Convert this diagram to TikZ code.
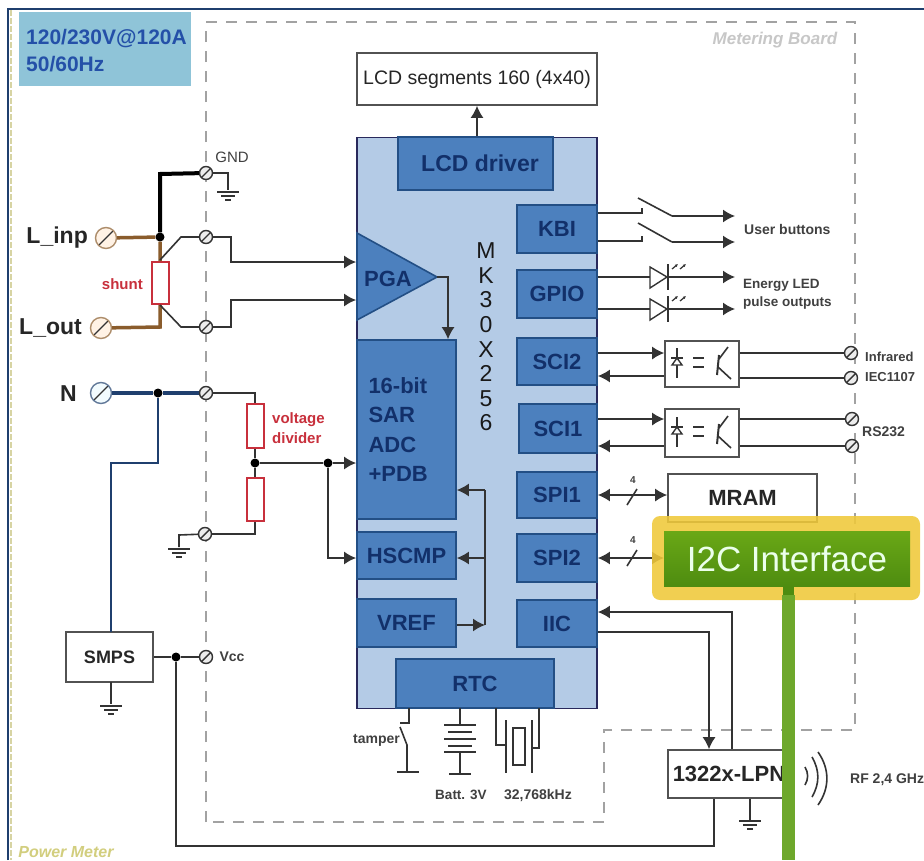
\documentclass[tikz,border=0pt]{standalone}
\usepackage{fontspec}
\setmainfont{Liberation Sans}
\usepackage{tikz}
\usetikzlibrary{arrows.meta}
\definecolor{chipblue}{HTML}{B4CBE6}
\definecolor{blockblue}{HTML}{4C80BE}
\definecolor{blockline}{HTML}{234F85}
\definecolor{labelblue}{HTML}{12306A}
\definecolor{wire}{HTML}{333333}
\definecolor{brownwire}{HTML}{8A5C2C}
\definecolor{navywire}{HTML}{1F3F6E}
\definecolor{dashgrey}{HTML}{A2A2A2}
\definecolor{redline}{HTML}{C8303C}
\definecolor{barGreen}{HTML}{6EA82C}
\definecolor{mainsblue}{HTML}{8FC4D8}
\definecolor{mainstext}{HTML}{2450A8}
\definecolor{glowyellow}{HTML}{F0C93A}
\definecolor{i2ctop}{HTML}{6AA816}
\definecolor{i2cbottom}{HTML}{4E8C10}
\newcommand{\fsz}[1]{\fontsize{#1}{#1}\selectfont}

\begin{document}
\begin{tikzpicture}[
    x=1pt, y=-1pt,
    block/.style={rectangle, draw=blockline, line width=1.6pt, fill=blockblue, inner sep=0pt, text=labelblue, font=\fsz{22}\bfseries},
    whitebox/.style={rectangle, draw=wire!85, line width=1.6pt, fill=white, inner sep=0pt, text=black!85, font=\fsz{18}\bfseries},
    term/.style={circle, draw=wire, line width=1.4pt, fill=white!85!gray, inner sep=0pt, minimum size=13pt, path picture={\draw[line width=1.4pt, draw=wire] (path picture bounding box.south west) -- (path picture bounding box.north east);}},
    bigterm/.style={term, minimum size=21pt, fill=white},
    resistor/.style={rectangle, draw=redline, line width=2pt, fill=white, inner sep=0pt, minimum width=17pt},
    tag/.style={inner sep=0pt, text=black!75, font=\fsz{14}\bfseries},
    bigtag/.style={inner sep=0pt, text=black!85, font=\fsz{23}\bfseries},
    redtag/.style={inner sep=0pt, text=redline, font=\fontsize{15}{20}\selectfont\bfseries, align=left},
    dot/.style={circle, fill=black, inner sep=0pt, minimum size=9pt},
    line/.style={draw=wire, line width=1.6pt},
    arrowline/.style={line, -{Latex[length=12pt,width=13pt]}},
    bothline/.style={line, {Latex[length=12pt,width=13pt]}-{Latex[length=12pt,width=13pt]}},
    boardline/.style={draw=dashgrey, line width=2pt, dash pattern=on 11pt off 9pt},
    gnd/.pic={
        \draw[line width=2pt, draw=wire] (-11,0) -- (11,0);
        \draw[line width=2pt, draw=wire] (-7,4) -- (7,4);
        \draw[line width=2pt, draw=wire] (-3,8) -- (3,8);
    },
    led/.pic={
        \draw[line width=1.4pt, draw=wire, fill=white] (0,-10) -- (0,11) -- (17,0) -- cycle;
        \draw[line width=1.6pt, draw=wire] (18,-13) -- (18,13);
        \draw[line width=1.2pt, draw=wire, -{Latex[length=3pt,width=3pt]}] (22,-8) -- (28,-13);
        \draw[line width=1.2pt, draw=wire, -{Latex[length=3pt,width=3pt]}] (30,-8) -- (36,-13);
    },
    opto/.pic={
        \draw[line width=1.6pt, draw=wire] (-25,-16) -- (-25,14);
        \draw[line width=1.4pt, draw=wire, fill=white] (-30,1) -- (-20,1) -- (-25,-6) -- cycle;
        \draw[line width=1.6pt, draw=wire] (-31,-6) -- (-19,-6);
        \draw[line width=1.6pt, draw=wire] (-9,-6) -- (2,-6);
        \draw[line width=1.6pt, draw=wire] (-9,3) -- (2,3);
        \draw[line width=2pt, draw=wire] (17,-9) -- (15,11);
        \draw[line width=1.6pt, draw=wire] (17,-5) -- (26,-17);
        \draw[line width=1.6pt, draw=wire] (16,3) -- (29,15);
    }
]
    \useasboundingbox (0,0) rectangle (924,860);
    \fill[white] (0,0) rectangle (924,860);

    % Frame
    \draw[draw=yellow!40!gray!60, line width=2pt, dash pattern=on 6pt off 2pt] (11,10) -- (11,860);
    \draw[draw=navywire, line width=2pt] (8,860) -- (8,8.5) -- (924,8.5);
    \node (mains) [rectangle, fill=mainsblue, minimum width=172pt, minimum height=74pt, inner sep=0pt] at (105,49) {};
    \node (mainsname) [inner sep=0pt, text=mainstext, font=\fontsize{21}{27}\selectfont\bfseries, align=left, anchor=west] at (26,51) {120/230V@120A\\50/60Hz};

    % Board outline
    \draw[boardline] (206,822) -- (206,22) -- (855,22) -- (855,730) -- (604,730) -- (604,822) -- cycle;
    \node (boardname) [inner sep=0pt, text=black!22, font=\fsz{17}\bfseries\itshape] at (775,40) {Metering Board};
    \node (metername) [inner sep=0pt, text=olive!40!white, font=\fsz{16}\bfseries\itshape] at (66,852) {Power Meter};

    % Chip
    \node (chip) [rectangle, draw=wire!80!blue, line width=1.8pt, fill=chipblue, minimum width=240pt, minimum height=571pt, inner sep=0pt] at (477,423) {};
    \node (chipname) [inner sep=0pt, text=black!90, font=\fontsize{23}{24.6}\selectfont, align=center] at (486,337) {M\\K\\3\\0\\X\\2\\5\\6};
    \node (lcddrv) [block, minimum width=155pt, minimum height=53pt, font=\fsz{23}\bfseries] at (475.5,163.5) {\hspace*{9pt}LCD driver};
    \node (lcd) [whitebox, minimum width=240pt, minimum height=52pt, font=\fsz{19.5}] at (477,79) {LCD segments 160 (4x40)};
    \node (kbi) [block, minimum width=80pt, minimum height=48pt] at (557,229) {KBI};
    \node (gpio) [block, minimum width=80pt, minimum height=48pt] at (557,294) {GPIO};
    \node (scib) [block, minimum width=80pt, minimum height=47pt] at (557,361.5) {SCI2};
    \node (scia) [block, minimum width=78pt, minimum height=49pt] at (558,428.5) {SCI1};
    \node (spia) [block, minimum width=80pt, minimum height=46pt] at (557,495) {SPI1};
    \node (spib) [block, minimum width=80pt, minimum height=48pt] at (557,558) {SPI2};
    \node (iic) [block, minimum width=80pt, minimum height=47pt] at (557,623.5) {IIC};
    \node (rtc) [block, minimum width=158pt, minimum height=49pt] at (475,683.5) {RTC};
    \node (adc) [block, minimum width=99pt, minimum height=179pt, text width=76pt, align=left, font=\fontsize{22}{29.5}\selectfont\bfseries] at (406.5,429.5) {16-bit\\SAR\\ADC\\+PDB};
    \node (hscmp) [block, minimum width=99pt, minimum height=47pt] at (406.5,555.5) {HSCMP};
    \node (vref) [block, minimum width=99pt, minimum height=48pt] at (406.5,623) {VREF};
    \draw[draw=blockline, line width=1.6pt, fill=blockblue] (357,233) -- (437,277) -- (357,320) -- cycle;
    \node (pga) [inner sep=0pt, text=labelblue, font=\fsz{22}\bfseries] at (388,279) {PGA};
    \coordinate (pgatip) at (437,277);

    % Left side nodes
    \node (linp) [bigterm, draw=brownwire!70, fill=orange!10] at (106,238) {};
    \node (lout) [bigterm, draw=brownwire!70, fill=orange!10] at (101,328) {};
    \node (neutral) [bigterm, draw=navywire!70, fill=cyan!5] at (101,393) {};
    \node (linpname) [bigtag, anchor=east] at (88,238) {L\_inp};
    \node (loutname) [bigtag, anchor=east] at (82,328) {L\_out};
    \node (nname) [bigtag, anchor=east] at (77,394) {N};
    \node (tgnd) [term] at (206,173) {};
    \node (tsa) [term] at (206,237) {};
    \node (tsb) [term] at (206,327) {};
    \node (tn) [term] at (206,393) {};
    \node (tdiv) [term] at (205,534) {};
    \node (tvcc) [term] at (206,657) {};
    \node (gndname) [tag, font=\fsz{15}] at (232,157) {GND};
    \node (vccname) [tag] at (232,657) {Vcc};
    \node (shunt) [resistor, minimum height=42pt] at (160,283) {};
    \node (shuntname) [redtag, anchor=east] at (143,284) {shunt};
    \node (rup) [resistor, minimum height=44pt] at (255,426) {};
    \node (rlow) [resistor, minimum height=43pt] at (255,499.5) {};
    \node (divname) [redtag, anchor=west] at (272,428) {voltage\\divider};
    \node (smps) [whitebox, minimum width=87pt, minimum height=50pt] at (109.5,657) {SMPS};
    \node (dotl) [dot] at (160,237) {};
    \node (dotn) [dot] at (158,393) {};
    \node (dotdiv) [dot] at (255,463) {};
    \node (dotadc) [dot] at (328,463) {};
    \node (dotvcc) [dot] at (176,657) {};
    \coordinate (senseb) at (231,262);
    \coordinate (sensec) at (231,300);

    % Left side paths
    \draw[draw=brownwire, line width=3.5pt] (linp) -- (dotl) -- (shunt.north);
    \draw[draw=brownwire, line width=3.5pt] (lout) -- (160,327) -- (shunt.south);
    \draw[draw=black, line width=4pt] (dotl) -- (160,174) -- (tgnd);
    \path[line] (tgnd) -- (228,173) -- (228,190);
    \pic at (228,192) {gnd};
    \path[line] (160,260) -- (181,237) -- (tsa);
    \path[line] (160,305) -- (181,327) -- (tsb);
    \path[arrowline] (tsa) -- (231,237) -- (senseb) -- (chip.west |- senseb);
    \path[arrowline] (tsb) -- (231,327) -- (sensec) -- (chip.west |- sensec);
    \draw[draw=navywire, line width=3.5pt] (neutral) -- (dotn) -- (tn);
    \draw[draw=navywire, line width=2pt] (dotn) -- (158,463) -- (111,463) -- (111,632);
    \path[line] (tn) -- (255,393) -- (rup.north);
    \path[line] (rup.south) -- (dotdiv) -- (rlow.north);
    \path[line] (rlow.south) -- (255,534) -- (tdiv);
    \path[line] (tdiv) -- (179,535) -- (179,547);
    \pic at (179,549) {gnd};
    \path[line] (dotdiv) -- (dotadc);
    \path[arrowline] (dotadc) -- (chip.west |- dotadc);
    \path[arrowline] (dotadc) -- (328,558) -- (chip.west |- 0,558);
    \path[line] (smps.east) -- (dotvcc) -- (tvcc);
    \path[line, line width=2pt] (111,682) -- (111,704);
    \pic at (111,706) {gnd};

    % Chip paths
    \path[arrowline] (lcddrv.north -| lcd.south) -- (lcd.south);
    \path[arrowline] (pgatip) -- (448,277) -- (adc.north -| 448,0);
    \path[line] (485,490) -- (485,625);
    \path[arrowline] (485,490) -- (adc.east |- 0,490);
    \path[arrowline] (485,558) -- (hscmp.east |- 0,558);
    \path[arrowline] (vref.east |- 0,625) -- (485,625);

    % Switches and LEDs
    \coordinate (swa) at (642,213);
    \coordinate (swb) at (642,241);
    \path[line] (kbi.east |- swa) -- (swa) -- (642,208);
    \path[line] (kbi.east |- swb) -- (swb) -- (642,236);
    \path[line] (638,198) -- (672,216);
    \path[line] (638,223) -- (672,242);
    \path[arrowline] (672,216) -- (735,216);
    \path[arrowline] (672,242) -- (735,242);
    \node (btnname) [tag, anchor=west] at (744,229) {User buttons};
    \path[arrowline] (gpio.east |- 0,277) -- (735,277);
    \path[arrowline] (gpio.east |- 0,309) -- (735,309);
    \pic at (650,277) {led};
    \pic at (650,309) {led};
    \node (ledname) [tag, anchor=west, align=left, font=\fontsize{13.5}{18}\selectfont\bfseries] at (743,294) {Energy LED\\pulse outputs};

    % Opto couplers
    \node (optob) [whitebox, minimum width=74pt, minimum height=46pt] at (702,364) {};
    \node (optoa) [whitebox, minimum width=74pt, minimum height=48pt] at (702,433) {};
    \pic at (optob.center) {opto};
    \pic at (optoa.center) {opto};
    \path[arrowline] (scib.east |- 0,353) -- (optob.west |- 0,353);
    \path[arrowline] (optob.west |- 0,376) -- (scib.east |- 0,376);
    \path[arrowline] (scia.east |- 0,419) -- (optoa.west |- 0,419);
    \path[arrowline] (optoa.west |- 0,446) -- (scia.east |- 0,446);
    \node (tirb) [term] at (851,353) {};
    \node (tira) [term] at (851,378) {};
    \node (tsera) [term] at (852,419) {};
    \node (tserb) [term] at (852,446) {};
    \path[line] (optob.east |- tirb) -- (tirb);
    \path[line] (optob.east |- tira) -- (tira);
    \path[line] (optoa.east |- tsera) -- (tsera);
    \path[line] (optoa.east |- tserb) -- (tserb);
    \node (irname) [tag, anchor=west, align=left, font=\fontsize{13}{20}\selectfont\bfseries] at (865,367) {Infrared\\IEC1107};
    \node (rsname) [tag, anchor=west] at (862,432) {RS232};

    % Memory and buses
    \node (mram) [whitebox, minimum width=149pt, minimum height=48pt, font=\fsz{22}\bfseries] at (742.5,498) {MRAM};
    \path[bothline] (spia.east) -- (mram.west |- spia.east);
    \path[bothline] (spib.east) -- (664,558);
    \path[line] (627,505) -- (637,489);
    \path[line] (627,566) -- (637,550);
    \node (buswa) [tag, font=\fsz{10}\bfseries] at (633,480) {4};
    \node (buswb) [tag, font=\fsz{10}\bfseries] at (633,540) {4};

    % Bottom parts
    \path[line] (409,708) -- (409,723) -- (400,723);
    \path[line] (400,727) -- (407,745) -- (407,772);
    \path[line, line width=2.5pt] (397,772) -- (419,772);
    \node (tampername) [tag, anchor=east] at (400,740) {tamper};
    \path[line] (460,708) -- (460,725);
    \foreach \py/\pw in {725/16,732/12,739/16,746/12,752/16} {
        \path[line, line width=2pt] (460-\pw,\py) -- (460+\pw,\py);
    }
    \path[line] (460,752) -- (460,774);
    \path[line, line width=2.5pt] (449,774) -- (471,774);
    \node (battname) [tag, font=\fsz{13.5}\bfseries] at (461,795) {Batt. 3V};
    \path[line] (496,708) -- (496,745) -- (506,745);
    \path[line] (539,708) -- (539,748) -- (532,748);
    \path[line] (506,720) -- (506,773);
    \path[line] (532,720) -- (532,773);
    \node (xtal) [rectangle, draw=wire, line width=1.6pt, fill=white, minimum width=12pt, minimum height=37pt, inner sep=0pt] at (519,746.5) {};
    \node (xtalname) [tag] at (538,795) {32,768kHz};

    % Radio part
    \node (radio) [whitebox, minimum width=122pt, minimum height=48pt, font=\fsz{22}\bfseries] at (729,774) {1322x-LPN};
    \coordinate (iicin) at (732,612);
    \coordinate (iicout) at (709,632);
    \path[arrowline] (radio.north -| iicin) -- (iicin) -- (iic.east |- iicin);
    \path[arrowline] (iic.east |- iicout) -- (iicout) -- (radio.north -| iicout);
    \path[line] (dotvcc) -- (176,846) -- (714,846) -- (radio.south -| 714,0);
    \path[line, line width=2pt] (radio.south -| 750,0) -- (750,820);
    \pic at (750,821) {gnd};
    \path[line] (805,767) to[bend left=30] (805,785);
    \path[line] (812,757) to[bend left=30] (812,797);
    \path[line] (818,752) to[bend left=35] (818,805);
    \node (rfname) [tag, anchor=west] at (850,780) {RF 2,4 GHz};

    % Overlay
    \node (i2cglow) [rectangle, rounded corners=8pt, fill=glowyellow, fill opacity=0.88, minimum width=268pt, minimum height=84pt, inner sep=0pt] at (786,558) {};
    \node (i2c) [rectangle, top color=i2ctop, bottom color=i2cbottom, minimum width=246pt, minimum height=55pt, inner sep=0pt, text=white!92!green, font=\fsz{35}] at (787,558.5) {I2C Interface};
    \fill[i2cbottom] (783,586) rectangle (794,595);
    \fill[barGreen] (782,595) rectangle (795,860);
\end{tikzpicture}
\end{document}
